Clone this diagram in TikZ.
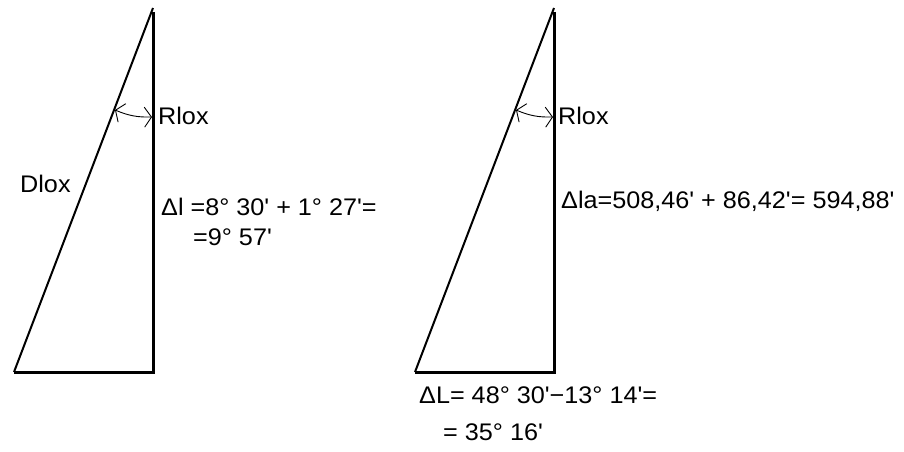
\documentclass[tikz,border=0pt]{standalone}
\usepackage{fontspec}
\setmainfont{Liberation Sans}[Ligatures=TeXOff,FakeStretch=1.05]
\usetikzlibrary{arrows.meta}
\begin{document}
\begin{tikzpicture}[x=1pt,y=-1pt,
  lbl/.style={inner sep=0pt,anchor=base west,font=\fontsize{24}{28}\selectfont},
  thick3/.style={line width=3pt},
  hyp/.style={line width=2pt},
  angarrow/.style={line width=0.9pt,{Straight Barb[length=7pt,width=20pt]}-{Straight Barb[length=7pt,width=20pt]}}]
\useasboundingbox (0,0) rectangle (904,452);
% left triangle
\coordinate (Ltop) at (153,12);
\coordinate (Lbr) at (153,372);
\coordinate (Lbl) at (14,372);
\draw[thick3] (Ltop) -- (Lbr) -- (Lbl);
\draw[hyp] (Lbl) -- ([yshift=4pt]Ltop);
\coordinate (La) at (115,110);
\coordinate (Lb) at (152,117);
\draw[angarrow] (La) to[bend right=12] (Lb);
\node[lbl] (Lrlox) at (158,124) {Rlox};
\node[lbl] (Ldlox) at (20,192) {Dlox};
\node[lbl] (Ldl) at (161,215) {Δl =8° 30' + 1° 27'=};
\node[lbl] (Ldl2) at (193,245) {=9° 57'};
% right triangle
\coordinate (Rtop) at (554,12);
\coordinate (Rbr) at (554,372);
\coordinate (Rbl) at (415,372);
\draw[thick3] (Rtop) -- (Rbr) -- (Rbl);
\draw[hyp] (Rbl) -- ([yshift=4pt]Rtop);
\coordinate (Ra) at (516,110);
\coordinate (Rb) at (553,117);
\draw[angarrow] (Ra) to[bend right=12] (Rb);
\node[lbl] (Rrlox) at (558,124) {Rlox};
\node[lbl] (Rdla) at (561,208) {Δla=508,46' + 86,42'= 594,88'};
\node[lbl] (RdL) at (419,403) {ΔL= 48° 30'−13° 14'=};
\node[lbl] (RdL2) at (443,440) {= 35° 16'};
\end{tikzpicture}
\end{document}
